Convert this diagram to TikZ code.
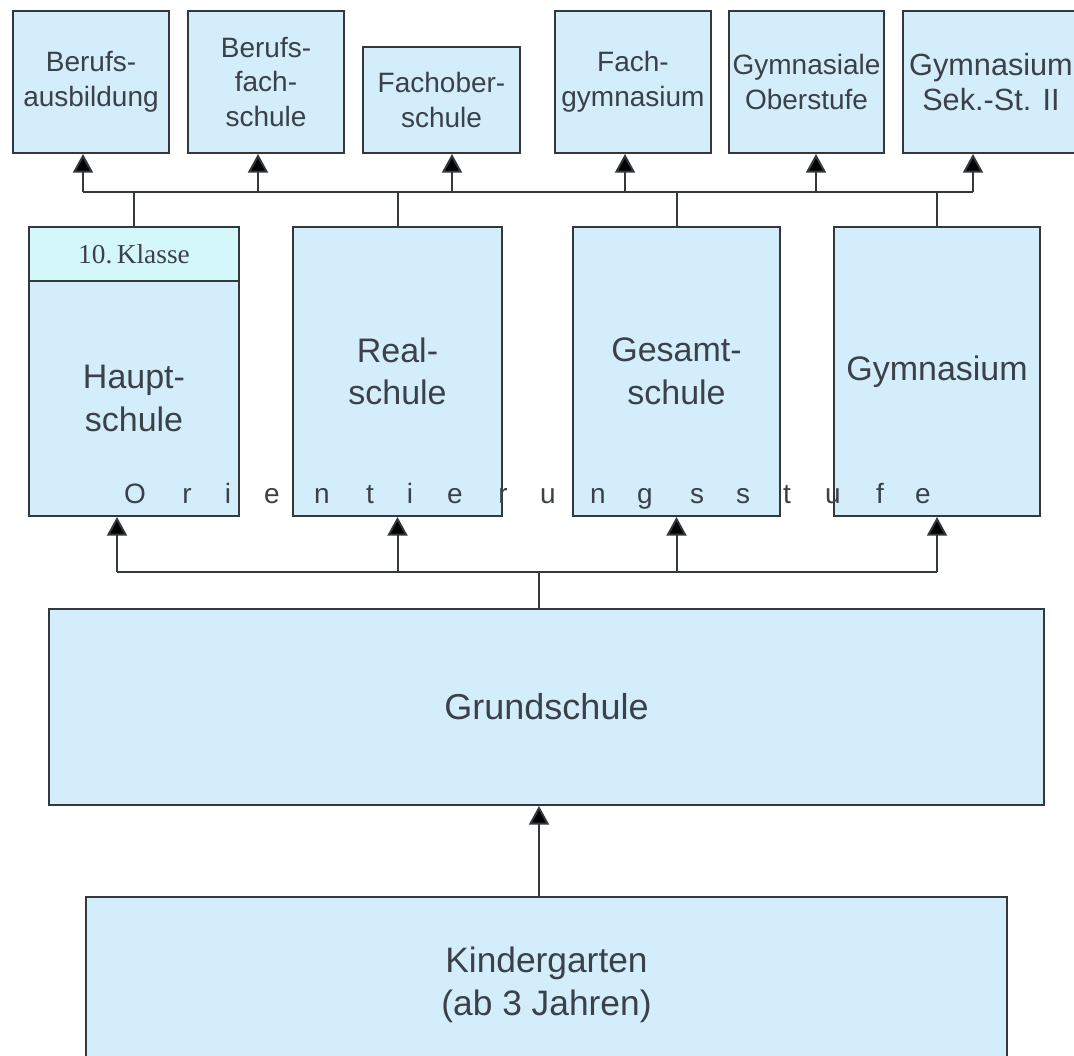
\documentclass[tikz,border=0pt]{standalone}
\usepackage{fontspec}
\setmainfont{Liberation Sans}
\newfontfamily\serifk{Liberation Serif}
\usetikzlibrary{arrows.meta}
\definecolor{boxC}{HTML}{D4EDFB}
\definecolor{klC}{HTML}{D4F8FA}
\definecolor{lineC}{HTML}{33383D}
\definecolor{txtC}{HTML}{3A4148}
\begin{document}
\begin{tikzpicture}[x=0.75pt,y=-0.75pt,
  box/.style={draw=lineC,line width=1.5pt,fill=boxC,text=txtC,align=center,inner sep=0pt},
  topbox/.style={box,minimum width=117pt,minimum height=106.5pt,font=\fontsize{21}{26}\selectfont},
  midbox/.style={box,minimum height=216.75pt,font=\fontsize{25.5}{32}\selectfont},
  conn/.style={draw=lineC,line width=1.5pt},
  arr/.style={conn,-{Triangle[width=15pt,length=14pt,fill=black]}},
  ori/.style={text=txtC,font=\fontsize{21}{26}\selectfont,anchor=base,inner sep=0pt}]
\clip (0,0) rectangle (1074,1056);
\fill[white] (0,0) rectangle (1074,1056);

% top row
\node[topbox] (b1) at (91,82) {Berufs-\\ausbildung};
\node[topbox] (b2) at (266,82) {Berufs-\\fach-\\schule};
\node[topbox,minimum width=117.75pt,minimum height=79.5pt] (b3) at (441.5,100) {Fachober-\\schule};
\node[topbox] (b4) at (633,82) {Fach-\\gymnasium};
\node[topbox,minimum width=116.25pt] (b5) at (806.5,82) {Gymnasiale\\Oberstufe};
\node[topbox,minimum width=132pt,font=\fontsize{23}{26}\selectfont] (b6) at (991,82) {Gymnasium\\Sek.-St. II};

% middle row
\node[box,fill=klC,minimum width=157.5pt,minimum height=40.5pt,font=\serifk\fontsize{20.5}{24}\selectfont] (kl) at (134,254) {10.\,Klasse};
\node[midbox,minimum width=157.5pt,minimum height=176.25pt] (haupt) at (134,398.5) {Haupt-\\schule};
\node[midbox,minimum width=156.75pt] (real) at (397.5,371.5) {Real-\\schule};
\node[midbox,minimum width=155.25pt] (gesamt) at (676.5,371.5) {Gesamt-\\schule};
\node[midbox,minimum width=154.5pt] (gym) at (937,371.5) {Gymnasium};

% Orientierungsstufe
\foreach \x/\l in {135/O,187/r,228/i,272/e,322/n,370/t,410/i,455/e,503/r,548/u,598/n,645/g,697/s,743/s,787/t,833/u,880/f,923/e}
  \node[ori] (ori\x) at (\x,503) {\l};

% bottom
\node[box,minimum width=746.25pt,minimum height=147pt,font=\fontsize{27}{32}\selectfont] (grund) at (546.5,707) {Grundschule};
\node[box,minimum width=690.75pt,minimum height=132pt,font=\fontsize{26.5}{32}\selectfont] (kinder) at (546.5,985) {Kindergarten\\(ab 3 Jahren)};

% top connectors
\coordinate (a1) at (83,192);
\coordinate (a2) at (258,192);
\coordinate (a3) at (452,192);
\coordinate (a4) at (625,192);
\coordinate (a5) at (816,192);
\coordinate (a6) at (973,192);
\draw[conn] (a1) -- (a6);
\foreach \i in {1,...,6} \draw[arr] (a\i) -- (a\i |- b\i.south);
\foreach \n in {kl,real,gesamt,gym} \draw[conn] (\n.north) -- (\n.north |- a1);

% lower connectors
\coordinate (c1) at (117,572);
\coordinate (g0) at (539,572);
\draw[conn] (c1) -- (gym.south |- c1);
\draw[arr] (c1) -- (c1 |- haupt.south);
\foreach \n in {real,gesamt,gym} \draw[arr] (\n.south |- c1) -- (\n.south);
\draw[conn] (g0 |- grund.north) -- (g0);
\draw[arr] (g0 |- kinder.north) -- (g0 |- grund.south);
\end{tikzpicture}
\end{document}
